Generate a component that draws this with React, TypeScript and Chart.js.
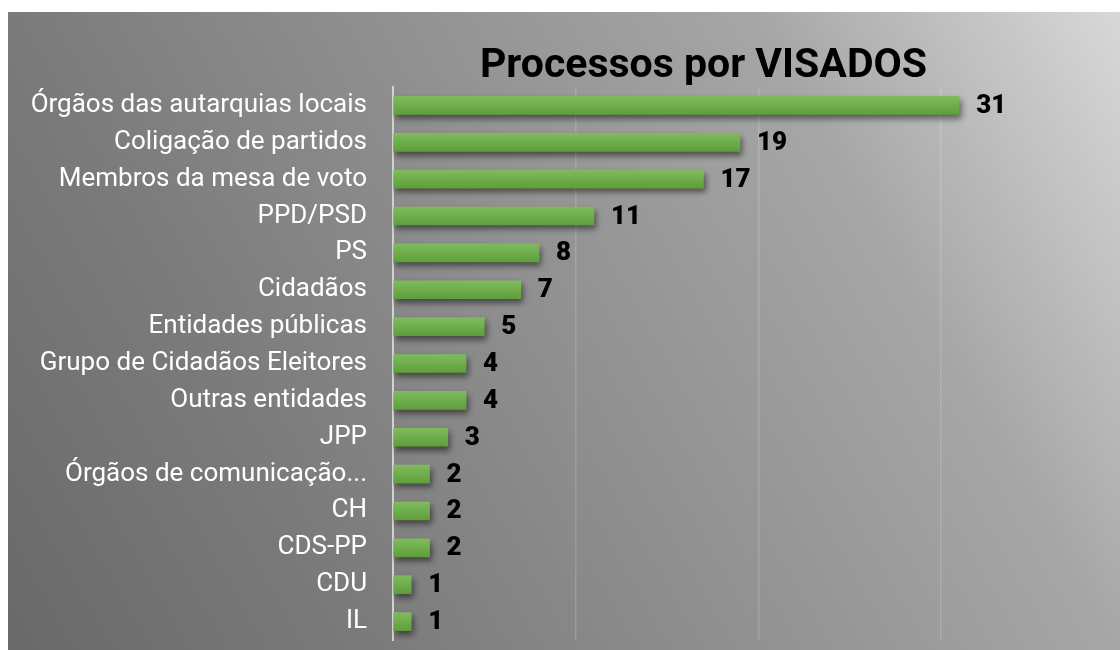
import React, { useEffect, useRef } from "react";
import { Chart, registerables } from "chart.js";

Chart.register(...registerables);

const titleText = "Processos por VISADOS";
const categories = [
  "Órgãos das autarquias locais",
  "Coligação de partidos",
  "Membros da mesa de voto",
  "PPD/PSD",
  "PS",
  "Cidadãos",
  "Entidades públicas",
  "Grupo de Cidadãos Eleitores",
  "Outras entidades",
  "JPP",
  "Órgãos de comunicação...",
  "CH",
  "CDS-PP",
  "CDU",
  "IL",
];
const values = [31, 19, 17, 11, 8, 7, 5, 4, 4, 3, 2, 2, 2, 1, 1];
const xMin = 0;
const xMax = 34;
const gridStep = 10;

const W = 1112;
const H = 638;

const bgPlugin = {
  id: "bgGradient",
  beforeDraw(chart: any) {
    const { ctx, width, height } = chart;
    const g = ctx.createLinearGradient(0, height, width, 0);
    g.addColorStop(0, "#696969");
    g.addColorStop(0.25, "#7b7b7b");
    g.addColorStop(0.75, "#a6a6a6");
    g.addColorStop(1, "#d8d8d8");
    ctx.save();
    ctx.fillStyle = g;
    ctx.fillRect(0, 0, width, height);
    ctx.restore();
  },
};

const shadowPlugin = {
  id: "barShadow",
  beforeDatasetsDraw(chart: any) {
    const ctx = chart.ctx;
    ctx.save();
    ctx.shadowColor = "rgba(0,0,0,0.5)";
    ctx.shadowBlur = 6;
    ctx.shadowOffsetX = 2;
    ctx.shadowOffsetY = 4;
  },
  afterDatasetsDraw(chart: any) {
    const ctx = chart.ctx;
    ctx.restore();
    const meta = chart.getDatasetMeta(0);
    ctx.save();
    ctx.font = "900 26px Roboto";
    ctx.fillStyle = "#000000";
    ctx.textAlign = "left";
    ctx.textBaseline = "middle";
    meta.data.forEach((el: any, i: number) => {
      ctx.fillText(String(values[i]), el.x + 17, el.y + 1);
    });
    ctx.restore();
  },
};

export default function App() {
  const ref = useRef<HTMLCanvasElement | null>(null);
  useEffect(() => {
    if (!ref.current) return;
    const chart = new Chart(ref.current, {
      type: "bar",
      data: {
        labels: categories,
        datasets: [
          {
            data: values,
            backgroundColor: (c: any) => {
              const ch = c.chart;
              const ys = ch.scales && ch.scales.y;
              if (!ch.chartArea || !ys) return "#70ad47";
              const yc = ys.getPixelForValue(c.dataIndex);
              const g = ch.ctx.createLinearGradient(0, yc - 9, 0, yc + 9);
              g.addColorStop(0, "#7fbb5e");
              g.addColorStop(1, "#5f9f3b");
              return g;
            },
            borderWidth: 0,
            barThickness: 18,
          },
        ],
      },
      options: {
        indexAxis: "y",
        responsive: false,
        animation: false,
        layout: { padding: { left: 0, right: 106, top: 0, bottom: 10 } },
        plugins: {
          legend: { display: false },
          tooltip: { enabled: false },
          title: {
            display: true,
            text: titleText,
            fullSize: false,
            color: "#000000",
            font: { family: "Roboto", size: 41, weight: "bold", lineHeight: 1 },
            padding: { top: 34, bottom: 0 },
          },
        },
        scales: {
          x: {
            min: xMin,
            max: xMax,
            afterBuildTicks: (axis: any) => {
              axis.ticks = axis.ticks.filter((t: any) => t.value % gridStep === 0);
            },
            ticks: { display: false, stepSize: gridStep },
            grid: { color: "rgba(255,255,255,0.16)", lineWidth: 1.5, drawTicks: false },
            border: { display: false },
          },
          y: {
            afterFit: (s: any) => {
              s.width = 385;
              s.paddingTop = 0;
              s.paddingBottom = 0;
            },
            ticks: {
              color: "#ffffff",
              padding: 26,
              font: { family: "Roboto", size: 26 },
            },
            grid: { display: false, drawTicks: false },
            border: { display: true, color: "#d2d2d2", width: 2 },
          },
        },
      },
      plugins: [bgPlugin, shadowPlugin],
    });
    return () => chart.destroy();
  }, []);
  return (
    <div style={{ position: "fixed", left: 8, top: 12, width: W, height: H }}>
      <canvas ref={ref} width={W} height={H} style={{ display: "block" }} />
    </div>
  );
}
